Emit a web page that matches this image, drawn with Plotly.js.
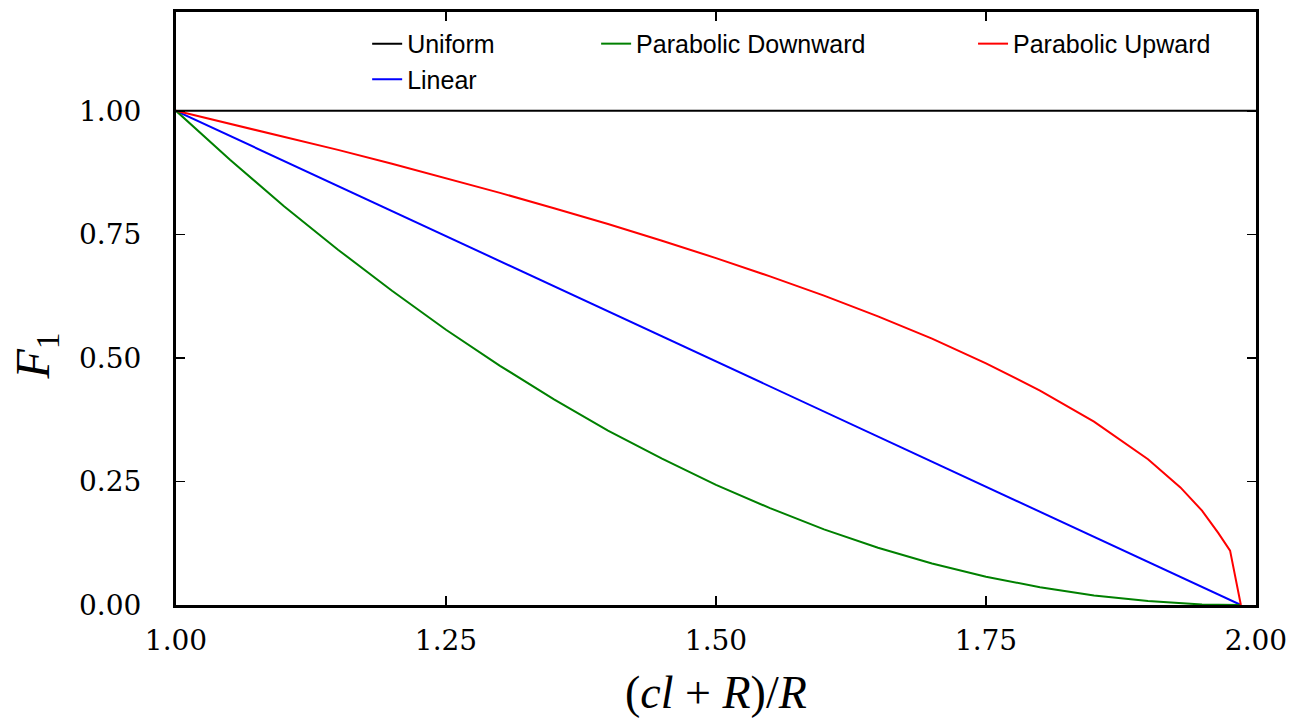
<!DOCTYPE html>
<html>
<head>
<meta charset="utf-8">
<script src="https://cdn.plot.ly/plotly-3.0.1.min.js"></script>
<style>html,body{margin:0;padding:0;background:#fff;}#chart{width:1309px;height:725px;}</style>
</head>
<body>
<div id="chart"></div>
<script>
// Data
var uniformX = [1.00, 2.00];
var uniformY = [1.00, 1.00];

var linearX = [1.00, 1.986];
var linearY = [1.00, 0.00];

var curveX = [1.00, 1.05, 1.10, 1.15, 1.20, 1.25, 1.30, 1.35, 1.40, 1.45, 1.50,
              1.55, 1.60, 1.65, 1.70, 1.75, 1.80, 1.85, 1.90, 1.93, 1.95, 1.965, 1.976, 1.986];
var downY = [1.000, 0.901, 0.807, 0.719, 0.636, 0.557, 0.484, 0.416, 0.353, 0.296, 0.243,
             0.196, 0.153, 0.116, 0.084, 0.057, 0.036, 0.019, 0.008, 0.003, 0.001, 0.0005, 0.0001, 0.000];
var upY = [1.000, 0.974, 0.948, 0.921, 0.893, 0.864, 0.834, 0.803, 0.771, 0.737, 0.702,
           0.665, 0.626, 0.584, 0.539, 0.489, 0.434, 0.371, 0.295, 0.238, 0.191, 0.146, 0.110, 0.000];

var seriesNames = ['Uniform', 'Linear', 'Parabolic Downward', 'Parabolic Upward'];
var xTicks = [1.00, 1.25, 1.50, 1.75, 2.00];
var yTicks = [0.00, 0.25, 0.50, 0.75, 1.00];
var xTitle = '(<i>cl</i> + <i>R</i>)/<i>R</i>';
var yTitle = '<i>F</i><sub>1</sub>';

var traces = [
  {x: uniformX, y: uniformY, name: seriesNames[0], mode: 'lines', line: {color: '#000000', width: 2}, legend: 'legend'},
  {x: linearX, y: linearY, name: seriesNames[1], mode: 'lines', line: {color: '#0000ff', width: 2}, legend: 'legend'},
  {x: curveX, y: downY, name: seriesNames[2], mode: 'lines', line: {color: '#008000', width: 2}, legend: 'legend2'},
  {x: curveX, y: upY, name: seriesNames[3], mode: 'lines', line: {color: '#ff0000', width: 2}, legend: 'legend3'}
];

var legendFont = {family: 'Liberation Sans, Arial, sans-serif', size: 25, color: '#000'};
function leg(x) {
  return {x: x, y: 0.985, xanchor: 'left', yanchor: 'top', orientation: 'v',
          bgcolor: 'rgba(0,0,0,0)', borderwidth: 0, font: legendFont,
          tracegroupgap: 0, itemwidth: 30};
}

var tickFont = {family: 'DejaVu Serif, serif', size: 28, color: '#000'};
var layout = {
  width: 1309, height: 725,
  margin: {l: 176, r: 53, t: 12, b: 120, pad: 0},
  paper_bgcolor: '#ffffff', plot_bgcolor: '#ffffff',
  showlegend: true,
  legend: leg(0.177),
  legend2: leg(0.389),
  legend3: leg(0.738),
  xaxis: {
    range: [1.0, 2.0], tickvals: xTicks, ticktext: xTicks.map(function(v){return v.toFixed(2);}),
    ticks: 'inside', ticklen: 9, tickwidth: 1.5, tickcolor: '#000',
    showline: true, linewidth: 3, linecolor: '#000', mirror: 'allticks',
    showgrid: false, zeroline: false, tickfont: tickFont, ticklabelstandoff: 8
  },
  yaxis: {
    range: [0, 1.2], tickvals: yTicks, ticktext: yTicks.map(function(v){return v.toFixed(2);}),
    ticks: 'inside', ticklen: 9, tickwidth: 1.5, tickcolor: '#000',
    showline: true, linewidth: 3, linecolor: '#000', mirror: 'allticks',
    showgrid: false, zeroline: false, tickfont: tickFont, ticklabelstandoff: 26
  },
  annotations: [
    {text: xTitle, xref: 'paper', yref: 'paper', x: 0.5, y: -0.148, xanchor: 'center', yanchor: 'middle',
     showarrow: false, font: {family: 'Liberation Serif, serif', size: 46, color: '#000'}},
    {text: yTitle, xref: 'paper', yref: 'paper', x: -0.13, y: 0.42, xanchor: 'center', yanchor: 'middle',
     textangle: -90, showarrow: false, font: {family: 'Liberation Serif, serif', size: 48, color: '#000'}}
  ]
};

Plotly.newPlot('chart', traces, layout, {displayModeBar: false, staticPlot: true});
</script>
</body>
</html>
